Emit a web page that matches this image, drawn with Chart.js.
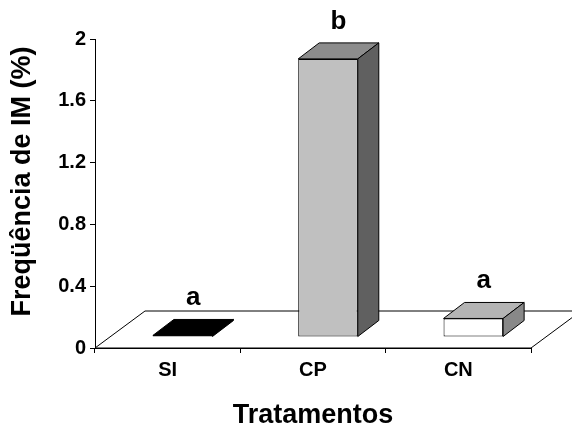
<!DOCTYPE html>
<html><head><meta charset="utf-8">
<script src="https://cdn.jsdelivr.net/npm/chart.js@4/dist/chart.umd.min.js"></script>
<style>html,body{margin:0;padding:0;background:#fff;}</style>
</head><body>
<canvas id="c" width="572" height="432"></canvas>
<script>
// ---- data ----
const categories = ['SI', 'CP', 'CN'];
const values = [0.01, 1.8, 0.12];
const letters = ['a', 'b', 'a'];
const yTicks = [0, 0.4, 0.8, 1.2, 1.6, 2];
const yTickLabels = ['0', '0.4', '0.8', '1.2', '1.6', '2'];
const yTitle = 'Freqüência de IM (%)';
const xTitle = 'Tratamentos';

// ---- styles ----
const frontColors = ['#000000', '#c0c0c0', '#ffffff'];
const topColors = ['#000000', '#8c8c8c', '#b4b4b4'];
const sideColors = ['#000000', '#606060', '#888888'];
const FONT = "'Liberation Sans', Arial, sans-serif";

const FLOOR_DX = 50, FLOOR_DY = -37;   // floor depth vector
const FRONT_DX = 15, FRONT_DY = -11;   // bar front plane offset
const BAR_DX = 21, BAR_DY = -16;       // bar depth

Chart.defaults.font.family = FONT;
Chart.defaults.color = '#000';

const plot3d = {
  id: 'plot3d',
  beforeDatasetsDraw(chart) {
    const ctx = chart.ctx, a = chart.chartArea;
    ctx.save();
    ctx.beginPath();
    ctx.moveTo(a.left, a.bottom);
    ctx.lineTo(a.right, a.bottom);
    ctx.lineTo(a.right + FLOOR_DX, a.bottom + FLOOR_DY);
    ctx.lineTo(a.left + FLOOR_DX, a.bottom + FLOOR_DY);
    ctx.closePath();
    ctx.fillStyle = '#fff';
    ctx.fill();
    ctx.strokeStyle = '#000';
    ctx.lineWidth = 1;
    ctx.stroke();
    ctx.restore();
    ctx.save();
    ctx.translate(FRONT_DX, FRONT_DY);
  },
  afterDatasetsDraw(chart) {
    const ctx = chart.ctx;
    ctx.restore();
    const meta = chart.getDatasetMeta(0);
    meta.data.forEach((bar, i) => {
      const p = bar.getProps(['x', 'y', 'base', 'width'], true);
      const x0 = p.x - p.width / 2 + FRONT_DX, x1 = p.x + p.width / 2 + FRONT_DX;
      const yt = p.y + FRONT_DY, yb = p.base + FRONT_DY;
      ctx.save();
      ctx.strokeStyle = '#000';
      ctx.lineWidth = 1;
      ctx.lineJoin = 'round';
      // top face
      ctx.beginPath();
      ctx.moveTo(x0, yt); ctx.lineTo(x1, yt);
      ctx.lineTo(x1 + BAR_DX, yt + BAR_DY); ctx.lineTo(x0 + BAR_DX, yt + BAR_DY);
      ctx.closePath();
      ctx.fillStyle = topColors[i]; ctx.fill(); ctx.stroke();
      // side face
      ctx.beginPath();
      ctx.moveTo(x1, yt); ctx.lineTo(x1 + BAR_DX, yt + BAR_DY);
      ctx.lineTo(x1 + BAR_DX, yb + BAR_DY); ctx.lineTo(x1, yb);
      ctx.closePath();
      ctx.fillStyle = sideColors[i]; ctx.fill(); ctx.stroke();
      // letter
      ctx.fillStyle = '#000';
      ctx.font = 'bold 26px ' + FONT;
      ctx.textAlign = 'center';
      ctx.textBaseline = 'alphabetic';
      ctx.fillText(letters[i], (x0 + x1) / 2 + BAR_DX / 2, yt + BAR_DY - 14);
      ctx.restore();
    });
  },
  afterDraw(chart) {
    // y-axis title, placed slightly above the plot middle as in the original
    const ctx = chart.ctx, a = chart.chartArea;
    ctx.save();
    ctx.translate(23, (a.top + a.bottom) / 2 - 12);
    ctx.rotate(-Math.PI / 2);
    ctx.fillStyle = '#000';
    ctx.font = 'bold 27px ' + FONT;
    ctx.textAlign = 'center';
    ctx.textBaseline = 'middle';
    ctx.fillText(yTitle, 0, 0);
    ctx.restore();
  }
};

new Chart(document.getElementById('c'), {
  type: 'bar',
  data: {
    labels: categories,
    datasets: [{
      data: values,
      backgroundColor: frontColors,
      borderColor: '#000',
      borderWidth: 1,
      borderSkipped: false,
      categoryPercentage: 1,
      barPercentage: 0.41,
      clip: false
    }]
  },
  options: {
    responsive: false,
    animation: false,
    events: [],
    layout: { padding: { left: 0, top: 39, right: 41, bottom: 0 } },
    plugins: { legend: { display: false }, tooltip: { enabled: false } },
    scales: {
      x: {
        grid: { display: true, offset: true, drawOnChartArea: false, tickLength: 5, color: '#000' },
        border: { display: true, color: '#000', width: 1 },
        ticks: { font: { size: 20, weight: 'bold' }, padding: 5, color: '#000' },
        title: { display: true, text: xTitle, font: { size: 27, weight: 'bold' }, color: '#000', padding: { top: 0, bottom: 0 } },
        afterFit(s) { s.height = 84; }
      },
      y: {
        min: 0, max: 2,
        grid: { display: true, drawOnChartArea: false, tickLength: 5, color: '#000' },
        border: { display: true, color: '#000', width: 1 },
        ticks: {
          font: { size: 20, weight: 'bold' }, padding: 4, color: '#000',
          callback: (v, i) => yTickLabels[i]
        },
        afterBuildTicks(s) { s.ticks = yTicks.map(v => ({ value: v })); },
        afterFit(s) { s.width = 95; }
      }
    }
  },
  plugins: [plot3d]
});
</script>
</body></html>
